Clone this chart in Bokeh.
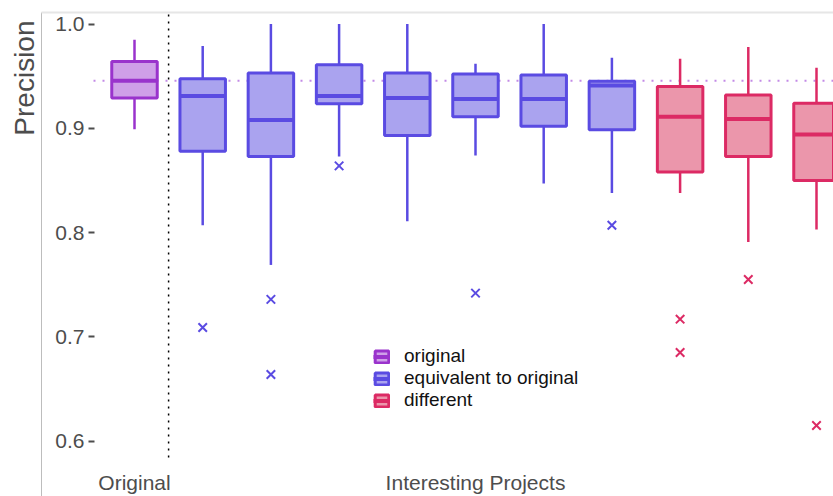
from bokeh.plotting import figure
from bokeh.models import (ColumnDataSource, Range1d, LinearAxis, FixedTicker,
                          Label, Legend, LegendItem)
from bokeh.core.properties import value
from bokeh.embed import file_html
from bokeh.resources import INLINE

FONT = "Liberation Sans"

# Box statistics per run (position 0 is the original configuration)
positions = [0, 1, 2, 3, 4, 5, 6, 7, 8, 9, 10]
kind = ["original"] + ["equivalent"] * 7 + ["different"] * 3
whisker_low = [0.899, 0.807, 0.769, 0.873, 0.811, 0.874, 0.847, 0.838, 0.838, 0.791, 0.803]
q1 = [0.929, 0.878, 0.873, 0.9235, 0.893, 0.911, 0.902, 0.8986, 0.858, 0.873, 0.850]
median = [0.9455, 0.931, 0.908, 0.931, 0.929, 0.928, 0.928, 0.941, 0.911, 0.909, 0.894]
q3 = [0.964, 0.9475, 0.953, 0.961, 0.953, 0.952, 0.951, 0.945, 0.940, 0.932, 0.924]
whisker_high = [0.985, 0.979, 1.0, 1.0, 1.0, 0.962, 1.0, 0.9676, 0.9666, 0.978, 0.958]

# Outlying runs
outlier_pos = [1, 2, 2, 3, 5, 7, 8, 8, 9, 10]
outlier_val = [0.709, 0.736, 0.664, 0.864, 0.742, 0.807, 0.717, 0.685, 0.755, 0.615]

y_ticks = [0.6, 0.7, 0.8, 0.9, 1.0]
group_labels = ["Original", "Interesting Projects"]
group_centers = [0, 5]
kind_order = ["original", "equivalent", "different"]
kind_labels = ["original", "equivalent to original", "different"]

# fill / line colours per kind
fill_col = {"original": "#cf9fe8", "equivalent": "#aaa3ef", "different": "#eb96ab"}
line_col = {"original": "#9a33cc", "equivalent": "#5a4be2", "different": "#dc2a64"}

# canvas geometry
W, H = 833, 496
X0_PX, X_STEP = 134.0, 68.2        # pixel of position 0, pixels per position
Y1_PX, Y_STEP = 23.5, 1043.0       # pixel of value 1.0, pixels per unit
BOX_W = 0.667


def xd(px):
    return (px - X0_PX) / X_STEP


def yd(py):
    return 1.0 - (py - Y1_PX) / Y_STEP


p = figure(width=W, height=H, output_backend="svg", toolbar_location=None,
           x_axis_location=None, y_axis_location=None,
           x_range=Range1d(xd(0), xd(W)), y_range=Range1d(yd(H), yd(0)),
           min_border=0, outline_line_color=None)
p.grid.visible = False
p.background_fill_color = "white"

# panel border (left + top)
left_x, top_y = xd(41), yd(12)
p.segment(x0=[left_x], y0=[top_y], x1=[left_x], y1=[yd(H)], line_color="#bdbdbd", line_width=1)
p.segment(x0=[left_x], y0=[top_y], x1=[xd(W)], y1=[top_y], line_color="#e6e6e6", line_width=2)

# reference line at the original median and separator between groups
p.segment(x0=[xd(93)], y0=[median[0]], x1=[xd(W)], y1=[median[0]],
          line_color="#c38ae6", line_width=2, line_dash="2 7")
p.segment(x0=[0.5], y0=[yd(14)], x1=[0.5], y1=[yd(461)],
          line_color="black", line_width=1.5, line_dash="2 5")

legend_items = []
for k, lab in zip(kind_order, kind_labels):
    idx = [i for i, kk in enumerate(kind) if kk == k]
    src = ColumnDataSource(dict(
        x=[positions[i] for i in idx],
        left=[positions[i] - BOX_W / 2 for i in idx],
        right=[positions[i] + BOX_W / 2 for i in idx],
        lo=[whisker_low[i] for i in idx],
        q1=[q1[i] for i in idx],
        med=[median[i] for i in idx],
        q3=[q3[i] for i in idx],
        hi=[whisker_high[i] for i in idx],
    ))
    lc, fc = line_col[k], fill_col[k]
    p.segment(x0="x", y0="q3", x1="x", y1="hi", source=src, line_color=lc, line_width=2.5)
    p.segment(x0="x", y0="lo", x1="x", y1="q1", source=src, line_color=lc, line_width=2.5)
    box = p.vbar(x="x", width=BOX_W, top="q3", bottom="q1", source=src,
                 fill_color=fc, line_color=lc, line_width=3)
    med = p.segment(x0="left", y0="med", x1="right", y1="med", source=src,
                    line_color=lc, line_width=4)
    legend_items.append(LegendItem(label=lab, renderers=[box, med]))

    op = [pp for pp in range(len(outlier_pos)) if kind[outlier_pos[pp]] == k]
    if op:
        p.scatter(x=[outlier_pos[j] for j in op], y=[outlier_val[j] for j in op],
                  marker="x", size=12, line_width=2, line_color=lc)

# y axis drawn inside the panel
yaxis = LinearAxis(fixed_location=xd(94), ticker=FixedTicker(ticks=y_ticks),
                   major_label_overrides={t: f"{t:.1f}" for t in y_ticks},
                   axis_line_color=None, major_tick_in=0, major_tick_out=6,
                   major_tick_line_width=2, major_tick_line_color="#4d4d4d",
                   minor_tick_line_color=None, major_label_standoff=4,
                   major_label_text_font=FONT, major_label_text_font_size="21px",
                   major_label_text_color="#4d4d4d")
p.add_layout(yaxis, "left")

p.add_layout(Label(x=xd(23.5), y=yd(20), text="Precision", angle=90, angle_units="deg",
                   text_align="right", text_baseline="middle",
                   text_font=FONT, text_font_size="28px", text_color="#4d4d4d"))

p.text(x=group_centers, y=[yd(482)] * 2, text=group_labels, text_font=value(FONT),
       text_font_size="21px", text_color="#4d4d4d", text_align="center",
       text_baseline="middle")

legend = Legend(items=legend_items, location=(373, 85), orientation="vertical",
                border_line_color=None, background_fill_alpha=0, padding=0, margin=0,
                spacing=0, glyph_width=17, glyph_height=15, label_height=22,
                label_standoff=14, label_text_font=FONT, label_text_font_size="19px",
                label_text_color="#111111")
p.add_layout(legend, "center")

open("out.html", "w").write(file_html(p, INLINE))
